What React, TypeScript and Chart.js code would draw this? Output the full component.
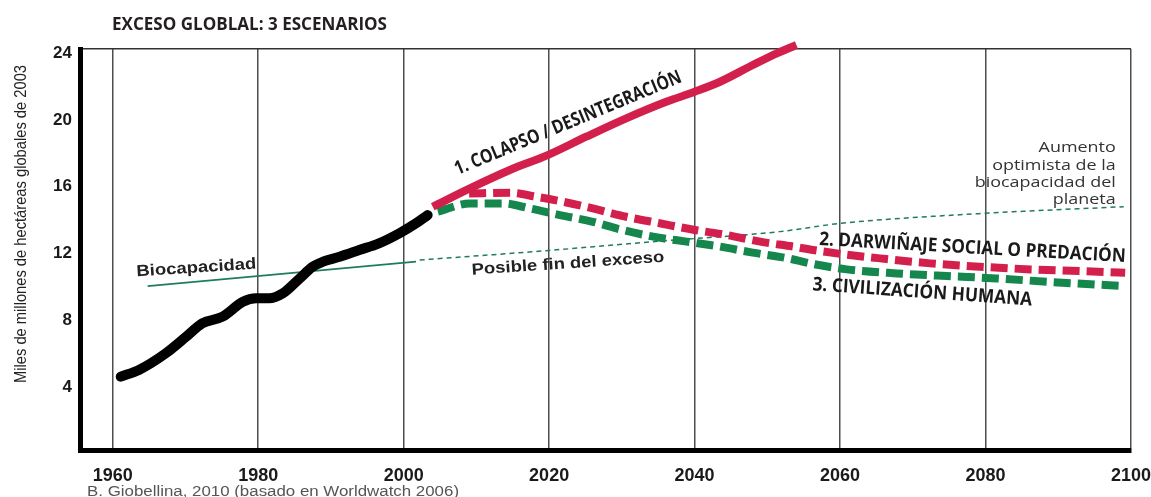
import React, { useEffect, useRef } from "react";
import { Chart, registerables } from "chart.js";

Chart.register(...registerables);

// ---- axis ticks ----
const xTickYears = [1960, 1980, 2000, 2020, 2040, 2060, 2080, 2100];
const yTickValues = [4, 8, 12, 16, 20, 24];

// ---- historical footprint (black) ----
const footprintYears = [1961.1, 1963.6, 1967.3, 1970.1, 1972.3, 1975.1, 1977.9, 1979.7, 1981.5, 1983.4, 1985.7, 1987.5, 1988.9, 1991.2, 1993.9, 1996.6, 1999.4, 2001.7, 2003.3];
const footprintValues = [4.39, 4.79, 5.79, 6.78, 7.58, 7.98, 8.87, 9.08, 9.08, 9.38, 10.27, 10.97, 11.27, 11.57, 11.97, 12.37, 12.97, 13.57, 14.06];

// ---- scenario 1: colapso (red solid) ----
const collapseYears = [2004.0, 2009.1, 2014.6, 2019.8, 2025.1, 2030.6, 2036.1, 2040.0, 2043.5, 2048.0, 2051.3, 2054.0];
const collapseValues = [14.56, 15.66, 16.76, 17.65, 18.75, 19.85, 20.84, 21.44, 22.04, 23.04, 23.74, 24.24];

// ---- scenario 2: darwiñaje social (red dashed) ----
const darwinYears = [2009.0, 2014.6, 2018.2, 2021.9, 2026.0, 2030.6, 2035.2, 2040.0, 2044.4, 2049.0, 2053.6, 2056.3, 2060.2, 2065.5, 2072.4, 2079.3, 2086.2, 2093.0, 2099.2];
const darwinValues = [15.35, 15.40, 15.16, 14.86, 14.46, 13.96, 13.57, 13.17, 12.87, 12.47, 12.17, 11.97, 11.73, 11.47, 11.17, 10.97, 10.81, 10.71, 10.61];

// ---- scenario 3: civilización humana (green dashed) ----
const civYears = [2004.7, 2009.1, 2013.6, 2017.3, 2021.5, 2026.0, 2029.7, 2034.3, 2038.9, 2043.5, 2048.0, 2052.5, 2056.3, 2060.9, 2067.8, 2074.7, 2081.5, 2088.4, 2099.0];
const civValues = [14.26, 14.76, 14.76, 14.46, 14.06, 13.66, 13.21, 12.77, 12.47, 12.17, 11.81, 11.5, 11.13, 10.81, 10.57, 10.41, 10.27, 10.07, 9.81];

// ---- biocapacity (green solid, then dotted) ----
const biocapYears = [1964.8, 2001.7];
const biocapValues = [9.81, 11.27];
const biocapFutureYears = [2002.2, 2019.6, 2034.3, 2051.7, 2060.2, 2079.7, 2099.0];
const biocapFutureValues = [11.37, 11.93, 12.47, 13.07, 13.57, 14.16, 14.56];

const RED = "#d31f4c";
const GREEN = "#15874d";
const BIO = "#1f7d5c";

const pts = (xs: number[], ys: number[]) => xs.map((x, i) => ({ x, y: ys[i] }));

function drawFitted(
  ctx: CanvasRenderingContext2D,
  text: string,
  cx: number,
  cy: number,
  width: number,
  font: string,
  color: string,
  angleDeg = 0
) {
  ctx.save();
  ctx.font = font;
  ctx.fillStyle = color;
  ctx.textAlign = "center";
  ctx.textBaseline = "middle";
  ctx.translate(cx, cy);
  ctx.rotate((angleDeg * Math.PI) / 180);
  const w = ctx.measureText(text).width;
  ctx.scale(width / w, 1);
  ctx.fillText(text, 0, 0);
  ctx.restore();
}

const annotations = {
  id: "annotations",
  afterDraw(chart: any) {
    const ctx: CanvasRenderingContext2D = chart.ctx;
    const xs = chart.scales.x;
    const ys = chart.scales.y;
    const px = (v: number) => xs.getPixelForValue(v);
    const py = (v: number) => ys.getPixelForValue(v);
    const bold = (s: number, f = "'Open Sans', sans-serif") => `bold ${s}px ${f}`;
    const arial = "'Liberation Sans', Arial, sans-serif";

    // Title
    drawFitted(ctx, "EXCESO GLOBLAL: 3 ESCENARIOS", 249.5, 25, 275, bold(18), "#231f20");

    // Y axis title
    drawFitted(ctx, "Miles de millones de hectáreas globales de 2003", 21, 224, 318, `17px ${arial}`, "#222", -90);

    // Footer
    ctx.save();
    ctx.font = `14px ${arial}`;
    ctx.fillStyle = "#555";
    ctx.textAlign = "left";
    ctx.textBaseline = "alphabetic";
    const fw = ctx.measureText("B. Giobellina, 2010 (basado en Worldwatch 2006)").width;
    ctx.translate(87, 496);
    ctx.scale(372 / fw, 1);
    ctx.fillText("B. Giobellina, 2010 (basado en Worldwatch 2006)", 0, 0);
    ctx.restore();

    // Scenario labels
    drawFitted(ctx, "1. COLAPSO / DESINTEGRACIÓN", px(2022.6), py(19.55), 244, bold(19), "#1a1a1a", -22.5);
    drawFitted(ctx, "2. DARWIÑAJE SOCIAL O PREDACIÓN", px(2078.2), py(12.08), 307, bold(19), "#1a1a1a", 3.2);
    drawFitted(ctx, "3. CIVILIZACIÓN HUMANA", px(2071.3), py(9.43), 220, bold(19), "#1a1a1a", 4);

    // Biocapacity labels
    drawFitted(ctx, "Biocapacidad", px(1971.5), py(10.89), 120, `bold 16px ${arial}`, "#222", -3.7);
    drawFitted(ctx, "Posible fin del exceso", px(2022.6), py(11.14), 193, `bold 16px ${arial}`, "#222", -3.8);

    // Optimistic biocapacity text (right aligned)
    const lines = ["Aumento", "optimista de la", "biocapacidad del", "planeta"];
    ctx.save();
    ctx.font = "15px 'Open Sans', sans-serif";
    ctx.fillStyle = "#333";
    ctx.textAlign = "right";
    ctx.textBaseline = "middle";
    const s = 141 / ctx.measureText("biocapacidad del").width;
    const rx = px(2097.9);
    const top = py(18.07);
    lines.forEach((l, i) => {
      ctx.save();
      ctx.translate(rx, top + i * 17.3);
      ctx.scale(s, 1);
      ctx.fillText(l, 0, 0);
      ctx.restore();
    });
    ctx.restore();
  },
};

export default function App() {
  const ref = useRef<HTMLCanvasElement>(null);

  useEffect(() => {
    if (!ref.current) return;
    Chart.defaults.font.family = "'Liberation Sans', Arial, sans-serif";
    const chart = new Chart(ref.current, {
      type: "line",
      data: {
        datasets: [
          {
            label: "1. Colapso / desintegración",
            data: pts(collapseYears, collapseValues),
            borderColor: RED,
            borderWidth: 8,
            borderCapStyle: "butt",
            borderJoinStyle: "round",
            cubicInterpolationMode: "monotone",
            pointRadius: 0,
            clip: 10,
          },
          {
            label: "2. Darwiñaje social o predación",
            data: pts(darwinYears, darwinValues),
            borderColor: RED,
            borderWidth: 8,
            borderDash: [17, 7],
            borderCapStyle: "butt",
            cubicInterpolationMode: "monotone",
            pointRadius: 0,
          },
          {
            label: "3. Civilización humana",
            data: pts(civYears, civValues),
            borderColor: GREEN,
            borderWidth: 8,
            borderDash: [17, 7],
            borderCapStyle: "butt",
            cubicInterpolationMode: "monotone",
            pointRadius: 0,
          },
          {
            label: "Huella",
            data: pts(footprintYears, footprintValues),
            borderColor: "#000",
            borderWidth: 10,
            borderCapStyle: "round",
            borderJoinStyle: "round",
            cubicInterpolationMode: "monotone",
            pointRadius: 0,
          },
          {
            label: "Biocapacidad",
            data: pts(biocapYears, biocapValues),
            borderColor: BIO,
            borderWidth: 1.8,
            pointRadius: 0,
          },
          {
            label: "Posible fin del exceso",
            data: pts(biocapFutureYears, biocapFutureValues),
            borderColor: BIO,
            borderWidth: 1.5,
            borderDash: [5, 4],
            cubicInterpolationMode: "monotone",
            pointRadius: 0,
          },
        ],
      },
      options: {
        responsive: false,
        animation: false,
        devicePixelRatio: 1,
        layout: { padding: { top: 49, right: 20, bottom: 0, left: 0 } },
        plugins: {
          legend: { display: false },
          tooltip: { enabled: false },
          title: { display: false },
        },
        scales: {
          x: {
            type: "linear",
            min: 1955.5,
            max: 2100,
            afterBuildTicks: (s: any) => {
              s.ticks = xTickYears.map((v) => ({ value: v }));
            },
            afterFit: (s: any) => {
              s.height = 47;
              s.paddingLeft = 0;
              s.paddingRight = 0;
            },
            grid: { color: "#4d4d4d", lineWidth: 1.5, drawTicks: false },
            border: { display: true, color: "#000", width: 5 },
            ticks: {
              color: "#1a1a1a",
              font: { size: 18, weight: "bold" },
              padding: 15,
              maxRotation: 0,
              autoSkip: false,
              callback: (v: any) => String(v),
            },
          },
          y: {
            type: "linear",
            min: 0,
            max: 24,
            afterBuildTicks: (s: any) => {
              s.ticks = yTickValues.map((v) => ({ value: v }));
            },
            afterFit: (s: any) => {
              s.width = 80;
            },
            grid: {
              color: (c: any) => (c.tick && c.tick.value === 24 ? "#333" : "rgba(0,0,0,0)"),
              lineWidth: 1.5,
              drawTicks: false,
            },
            border: { display: true, color: "#000", width: 5 },
            ticks: {
              color: "#1a1a1a",
              font: { size: 17, weight: "bold" },
              padding: 8,
              labelOffset: 4,
              callback: (v: any) => String(v),
            },
          },
        },
      },
      plugins: [annotations],
    } as any);
    return () => chart.destroy();
  }, []);

  return (
    <div style={{ position: "fixed", left: 0, top: 0, width: 1151, height: 497, background: "#fff" }}>
      <canvas ref={ref} width={1151} height={497} style={{ display: "block", width: 1151, height: 497 }} />
    </div>
  );
}
